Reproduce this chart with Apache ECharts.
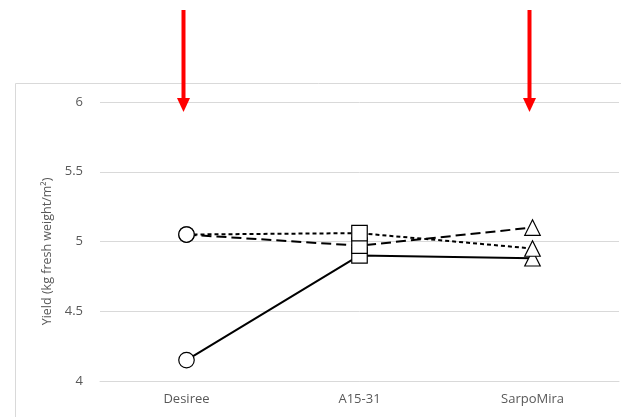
<!DOCTYPE html>
<html>
<head>
<meta charset="utf-8">
<script src="https://cdn.jsdelivr.net/npm/echarts@6/dist/echarts.min.js"></script>
<style>
html,body{margin:0;padding:0;background:#fff;}
#c{width:621px;height:417px;}
</style>
</head>
<body>
<div id="c"></div>
<script>
const categories = ['Desiree', 'A15-31', 'SarpoMira'];
const symbols = ['circle', 'rect', 'triangle'];
const solidValues = [4.15, 4.90, 4.88];
const dashedValues = [5.05, 4.97, 5.10];
const dottedValues = [5.05, 5.06, 4.95];
const yTicks = [4, 4.5, 5, 5.5, 6];
const arrowCategories = ['Desiree', 'SarpoMira'];

const chart = echarts.init(document.getElementById('c'));
const font = '"Open Sans", sans-serif';

function mk(values, type, dash) {
  return {
    type: 'line',
    data: values.map((v, i) => ({ value: v, symbol: symbols[i] })),
    symbolSize: 15.5,
    showAllSymbol: true,
    lineStyle: { color: '#000', width: 2, type: dash ? dash : type },
    itemStyle: { color: '#fff', borderColor: '#000', borderWidth: 1.2 },
    emphasis: { disabled: true },
    animation: false,
    z: 3
  };
}

chart.setOption({
  animation: false,
  grid: { left: 100, right: 2, top: 102, bottom: 36 },
  xAxis: {
    type: 'category',
    data: categories,
    boundaryGap: true,
    axisTick: { show: false },
    axisLine: { lineStyle: { color: '#d9d9d9', width: 1 } },
    axisLabel: { color: '#595959', fontSize: 13, fontFamily: font, margin: 12 }
  },
  yAxis: {
    type: 'value',
    min: yTicks[0],
    max: yTicks[yTicks.length - 1],
    interval: 0.5,
    name: 'Yield (kg fresh weight/m²)',
    nameLocation: 'middle',
    nameGap: 42,
    nameTextStyle: { color: '#595959', fontSize: 12.5, fontFamily: font, padding: [0, 20, 0, 0] },
    axisLine: { show: false },
    axisTick: { show: false },
    splitLine: { lineStyle: { color: '#d9d9d9', width: 1 } },
    axisLabel: { color: '#595959', fontSize: 13, fontFamily: font, margin: 17,
      formatter: v => String(v) }
  },
  series: [
    mk(solidValues, 'solid'),
    mk(dashedValues, 'dashed', [10, 5]),
    mk(dottedValues, 'dotted', [4, 3])
  ]
});

const graphics = [{
  type: 'rect', silent: true, z: -1,
  shape: { x: 15.5, y: 83.5, width: 700, height: 400 },
  style: { fill: 'none', stroke: '#d9d9d9', lineWidth: 1 }
}];
arrowCategories.forEach(cat => {
  const x = chart.convertToPixel({ xAxisIndex: 0 }, cat) - 3;
  graphics.push({
    type: 'line', silent: true, z: 10,
    shape: { x1: x, y1: 10, x2: x, y2: 99 },
    style: { stroke: '#ff0000', lineWidth: 4 }
  });
  graphics.push({
    type: 'polygon', silent: true, z: 10,
    shape: { points: [[x - 6.5, 98], [x + 6.5, 98], [x, 112]] },
    style: { fill: '#ff0000' }
  });
});
chart.setOption({ graphic: graphics });
</script>
</body>
</html>
